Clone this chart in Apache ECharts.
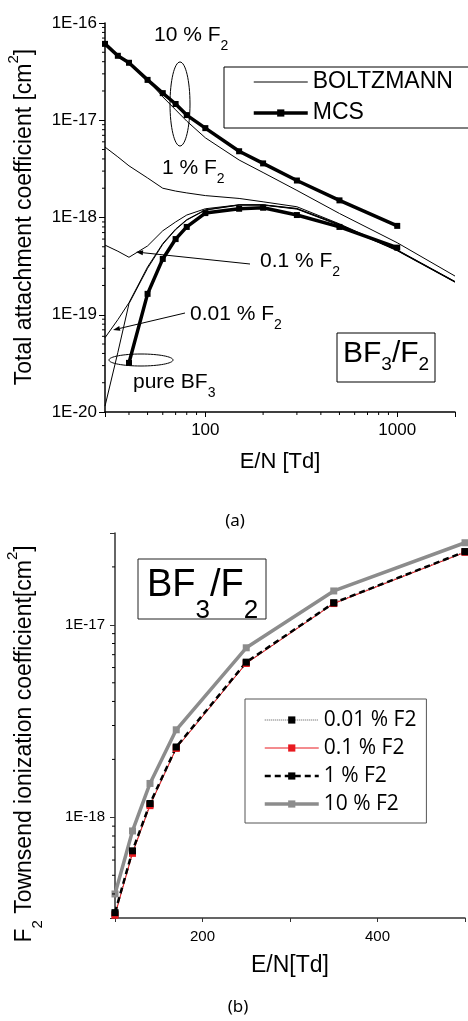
<!DOCTYPE html>
<html>
<head>
<meta charset="utf-8">
<script src="https://cdn.jsdelivr.net/npm/echarts@6/dist/echarts.min.js"></script>
<style>
  html, body { margin: 0; padding: 0; background: #fff; }
  #chart { width: 468px; height: 1021px; }
</style>
</head>
<body>
<div id="chart"></div>
<script>
// ---- (a) total attachment coefficient vs E/N ----
const enA = [30, 35, 40, 50, 60, 70, 80, 100, 150, 200, 300, 500, 1000, 2000];
const boltz10 = [6.1e-17, 4.6e-17, 3.9e-17, 2.6e-17, 1.74e-17, 1.28e-17, 9.8e-18, 6.6e-18, 3.9e-18, 2.9e-18, 1.9e-18, 1.1e-18, 5.5e-19, 2.5e-19];
const boltz1 = [5.3e-18, 4.2e-18, 3.4e-18, 2.55e-18, 2.0e-18, 1.87e-18, 1.79e-18, 1.68e-18, 1.57e-18, 1.45e-18, 1.29e-18, 8.6e-19, 4.65e-19, 2.2e-19];
const boltz01 = [5.2e-19, 4.5e-19, 3.9e-19, 5.1e-19, 7.3e-19, 9.0e-19, 1.06e-18, 1.23e-18, 1.35e-18, 1.35e-18, 1.24e-18, 8.5e-19, 4.6e-19, 2.18e-19];
const boltz001 = [5.8e-20, 8.9e-20, 1.33e-19, 3.1e-19, 5.4e-19, 7.6e-19, 9.5e-19, 1.2e-18, 1.35e-18, 1.35e-18, 1.23e-18, 8.4e-19, 4.6e-19, 2.18e-19];
const boltzPure = [1.15e-20, 4.1e-20, 1.3e-19, 3.0e-19, 5.3e-19, 7.5e-19, 9.4e-19, 1.19e-18, 1.34e-18, 1.34e-18, 1.22e-18, 8.3e-19, 4.55e-19, 2.16e-19];

const mcsEn10 = [30, 35, 40, 50, 60, 70, 80, 100, 150, 200, 300, 500, 1000];
const mcs10 = [6.1e-17, 4.6e-17, 3.9e-17, 2.6e-17, 1.9e-17, 1.47e-17, 1.13e-17, 8.3e-18, 4.8e-18, 3.6e-18, 2.4e-18, 1.5e-18, 8.2e-19];
const mcsEnPure = [40, 50, 60, 70, 80, 100, 150, 200, 300, 500, 1000];
const mcsPure = [3.2e-20, 1.64e-19, 3.75e-19, 6.0e-19, 8.0e-19, 1.11e-18, 1.23e-18, 1.26e-18, 1.06e-18, 8.0e-19, 4.9e-19];

// ---- (b) F2 Townsend ionization coefficient vs E/N ----
const enB = [100, 120, 140, 170, 250, 350, 500];
const ion001 = [3.15e-19, 6.6e-19, 1.17e-18, 2.3e-18, 6.35e-18, 1.3e-17, 2.4e-17];
const ion01 = [3.1e-19, 6.5e-19, 1.15e-18, 2.28e-18, 6.3e-18, 1.29e-17, 2.38e-17];
const ion1 = [3.2e-19, 6.7e-19, 1.18e-18, 2.32e-18, 6.4e-18, 1.3e-17, 2.4e-17];
const ion10 = [4.0e-19, 8.5e-19, 1.5e-18, 2.85e-18, 7.6e-18, 1.5e-17, 2.67e-17];

// minor tick positions for the log axes
const minorXA = [40, 50, 60, 70, 80, 90, 200, 300, 400, 500, 600, 700, 800, 900];
const decadesA = [-20, -19, -18, -17];
const decadesB = [-19, -18, -17];
function minorList(decades, lo, hi) {
  const out = [];
  decades.forEach(d => {
    for (let k = 2; k <= 9; k++) {
      const v = Number(k + 'e' + d);
      if (v > lo && v < hi) out.push(v);
    }
  });
  return out;
}
const minorYA = minorList(decadesA, 1e-20, 1e-16);
const minorYB = minorList(decadesB, 3e-19, 3e-17);

const F = 'Liberation Sans, Arial, sans-serif';
const zip = (xs, ys) => ys.map((y, i) => [xs[i], y]);
const isDecade = v => Math.abs(Math.log10(v) - Math.round(Math.log10(v))) < 1e-6;

function boltz(data) {
  return {
    name: 'BOLTZMANN', type: 'line', xAxisIndex: 0, yAxisIndex: 0,
    data: data, symbol: 'none',
    lineStyle: { color: '#000', width: 1 }, itemStyle: { color: '#000' }
  };
}
function mcs(data) {
  return {
    name: 'MCS', type: 'line', xAxisIndex: 0, yAxisIndex: 0,
    data: data, symbol: 'rect', symbolSize: 6,
    lineStyle: { color: '#000', width: 3.5 }, itemStyle: { color: '#000' }
  };
}
function minorTicks(xIdx, yIdx, data, dir) {
  return {
    type: 'custom', xAxisIndex: xIdx, yAxisIndex: yIdx, silent: true, clip: false, z: 5,
    data: data,
    renderItem: (params, api) => {
      const p = api.coord([api.value(0), api.value(1)]);
      const shape = dir === 'y'
        ? { x1: p[0] - 3, y1: p[1], x2: p[0], y2: p[1] }
        : { x1: p[0], y1: p[1], x2: p[0], y2: p[1] + 3 };
      return { type: 'line', shape: shape, style: { stroke: '#000', lineWidth: 1 } };
    }
  };
}
function arrow(x1, y1, x2, y2) {
  const a = Math.atan2(y2 - y1, x2 - x1), L = 7, W = 2.5;
  const bx = x2 - L * Math.cos(a), by = y2 - L * Math.sin(a);
  return [
    { type: 'line', shape: { x1: x1, y1: y1, x2: bx, y2: by }, style: { stroke: '#000', lineWidth: 1 } },
    { type: 'polygon', shape: { points: [[x2, y2], [bx - W * Math.sin(a), by + W * Math.cos(a)], [bx + W * Math.sin(a), by - W * Math.cos(a)]] }, style: { fill: '#000' } }
  ];
}
function label(x, y, text, size, subSize, pad, family) {
  const fam = family || F;
  return {
    type: 'text', x: x, y: y, z: 10,
    style: {
      text: text,
      rich: {
        m: { fontSize: size, fontFamily: fam },
        s: { fontSize: subSize, fontFamily: fam, padding: [pad, 0, 0, 0] },
        p: { fontSize: subSize, fontFamily: fam, padding: [0, 0, pad, 0] }
      },
      fill: '#000', align: 'left', verticalAlign: 'middle', textAlign: 'left', textVerticalAlign: 'middle'
    }
  };
}
function vlabel(x, y, text, size, subSize, pad) {
  const t = label(x, y, text, size, subSize, pad);
  t.rotation = Math.PI / 2;
  t.style.align = 'center'; t.style.textAlign = 'center';
  return t;
}

const myChart = echarts.init(document.getElementById('chart'));
const option = {
  animation: false,
  backgroundColor: '#fff',
  grid: [
    { left: 105, top: 23, width: 350, height: 389 },
    { left: 115, top: 533, width: 353, height: 385 }
  ],
  xAxis: [
    {
      gridIndex: 0, type: 'log', logBase: 10, min: 30, max: 2000,
      name: 'E/N [Td]', nameLocation: 'middle', nameGap: 39,
      nameTextStyle: { fontFamily: F, fontSize: 22, color: '#000' },
      axisLine: { lineStyle: { color: '#000', width: 1.5 } },
      axisTick: { show: true, length: 5, lineStyle: { color: '#000', width: 1 } },
      axisLabel: { fontFamily: F, fontSize: 17, color: '#000', margin: 10,
        formatter: v => isDecade(v) ? String(Math.round(v)) : '' },
      splitLine: { show: false }
    },
    {
      gridIndex: 1, type: 'value', min: 100, max: 500, interval: 100,
      name: 'E/N[Td]', nameLocation: 'middle', nameGap: 36,
      nameTextStyle: { fontFamily: F, fontSize: 23, color: '#000' },
      axisLine: { lineStyle: { color: '#333', width: 1.5 } },
      axisTick: { show: true, length: 4, lineStyle: { color: '#333', width: 1 } },
      axisLabel: { fontFamily: F, fontSize: 15, color: '#000', margin: 11,
        formatter: v => (v % 200 === 0 ? String(v) : '') },
      splitLine: { show: false }
    }
  ],
  yAxis: [
    {
      gridIndex: 0, type: 'log', logBase: 10, min: 1e-20, max: 1e-16,
      axisLine: { lineStyle: { color: '#000', width: 1.5 } },
      axisTick: { show: true, length: 6, lineStyle: { color: '#000', width: 1 } },
      axisLabel: { fontFamily: F, fontSize: 17, color: '#000', margin: 8,
        formatter: v => isDecade(v) ? '1E' + Math.round(Math.log10(v)) : '' },
      splitLine: { show: false }
    },
    {
      gridIndex: 1, type: 'log', logBase: 10, min: 3e-19, max: 3e-17,
      axisLine: { lineStyle: { color: '#333', width: 1.5 } },
      axisTick: { show: true, length: 5, lineStyle: { color: '#333', width: 1 } },
      axisLabel: { fontFamily: F, fontSize: 15, color: '#000', margin: 10,
        formatter: v => isDecade(v) ? '1E' + Math.round(Math.log10(v)) : '' },
      splitLine: { show: false }
    }
  ],
  legend: [
    {
      data: [
        { name: 'BOLTZMANN', lineStyle: { width: 1, color: '#000' }, itemStyle: { opacity: 0 } },
        { name: 'MCS', lineStyle: { width: 3.5, color: '#000' } }
      ],
      orient: 'vertical', left: 224, top: 67,
      itemWidth: 54, itemHeight: 9, itemGap: 7,
      padding: [3, 16, 3, 28],
      borderColor: '#000', borderWidth: 1,
      textStyle: { fontFamily: F, fontSize: 23, color: '#000', lineHeight: 24 }
    },
    {
      data: [
        { name: '0.01 % F2', lineStyle: { width: 1, color: '#555', type: 'dotted' } },
        { name: '0.1 % F2', lineStyle: { width: 1, color: '#e8191f' } },
        { name: '1 % F2', lineStyle: { width: 2.5, color: '#000', type: [6, 4] } },
        { name: '10 % F2', lineStyle: { width: 3.5, color: '#8c8c8c' } }
      ],
      orient: 'vertical', left: 245, top: 699,
      itemWidth: 54, itemHeight: 9, itemGap: 4,
      padding: [9, 10, 7, 18],
      borderColor: '#555', borderWidth: 1,
      textStyle: { fontFamily: 'Open Sans, sans-serif', fontSize: 21, color: '#000', lineHeight: 24 }
    }
  ],
  series: [
    boltz(zip(enA, boltz10)),
    boltz(zip(enA, boltz1)),
    boltz(zip(enA, boltz01)),
    boltz(zip(enA, boltz001)),
    boltz(zip(enA, boltzPure)),
    mcs(zip(mcsEn10, mcs10)),
    mcs(zip(mcsEnPure, mcsPure)),
    {
      name: '10 % F2', type: 'line', xAxisIndex: 1, yAxisIndex: 1,
      data: zip(enB, ion10), symbol: 'rect', symbolSize: 7,
      lineStyle: { color: '#8c8c8c', width: 3.5 }, itemStyle: { color: '#8c8c8c' }
    },
    {
      name: '0.01 % F2', type: 'line', xAxisIndex: 1, yAxisIndex: 1,
      data: zip(enB, ion001), symbol: 'rect', symbolSize: 7,
      lineStyle: { color: '#555', width: 1, type: 'dotted' }, itemStyle: { color: '#000' }
    },
    {
      name: '0.1 % F2', type: 'line', xAxisIndex: 1, yAxisIndex: 1,
      data: zip(enB, ion01), symbol: 'rect', symbolSize: 7,
      lineStyle: { color: '#e8191f', width: 1 }, itemStyle: { color: '#e8191f' }
    },
    {
      name: '1 % F2', type: 'line', xAxisIndex: 1, yAxisIndex: 1,
      data: zip(enB, ion1), symbol: 'rect', symbolSize: 7,
      lineStyle: { color: '#000', width: 2.5, type: [6, 4] }, itemStyle: { color: '#000' }
    },
    minorTicks(0, 0, minorYA.map(v => [30, v]), 'y'),
    minorTicks(0, 0, minorXA.map(v => [v, 1e-20]), 'x'),
    minorTicks(1, 1, minorYB.map(v => [100, v]), 'y')
  ],
  graphic: [
    vlabel(25, 217, '{m|Total attachment coefficient [cm}{p|2}{m|]}', 23, 15, 23),
    vlabel(25, 744, '{m|F}{s|2}{m| Townsend ionization coefficient[cm}{p|2}{m|]}', 23, 15, 25),
    label(154, 35, '{m|10 % F}{s|2}', 21, 14, 23),
    label(162, 168, '{m|1 % F}{s|2}', 21, 14, 23),
    label(260, 261, '{m|0.1 % F}{s|2}', 21, 14, 23),
    label(190, 314, '{m|0.01 % F}{s|2}', 21, 14, 23),
    label(133, 382, '{m|pure BF}{s|3}', 21, 14, 23),
    { type: 'ellipse', shape: { cx: 180, cy: 104, rx: 10, ry: 42 }, style: { fill: 'none', stroke: '#000', lineWidth: 1 } },
    { type: 'ellipse', shape: { cx: 141, cy: 360, rx: 32, ry: 6 }, style: { fill: 'none', stroke: '#000', lineWidth: 1 } },
    ...arrow(250, 264, 136, 252),
    ...arrow(185, 313, 113, 330),
    { type: 'rect', shape: { x: 337, y: 333, width: 98, height: 49 }, style: { fill: 'none', stroke: '#000', lineWidth: 1 } },
    label(343, 354, '{m|BF}{s|3}{m|/F}{s|2}', 30, 19, 22),
    { type: 'rect', shape: { x: 138, y: 559, width: 128, height: 60 }, style: { fill: 'none', stroke: '#222', lineWidth: 1 } },
    label(147, 586, '{m|BF}{s|3}{m|/F}{s|2}', 38, 26, 50),
    { type: 'text', x: 235, y: 521, style: { text: '(a)', fontFamily: 'Noto Sans, sans-serif', fontSize: 17, fill: '#000', align: 'center', verticalAlign: 'middle', textAlign: 'center', textVerticalAlign: 'middle' } },
    { type: 'text', x: 238, y: 1007, style: { text: '(b)', fontFamily: 'Noto Sans, sans-serif', fontSize: 17, fill: '#000', align: 'center', verticalAlign: 'middle', textAlign: 'center', textVerticalAlign: 'middle' } }
  ]
};
myChart.setOption(option);
</script>
</body>
</html>
